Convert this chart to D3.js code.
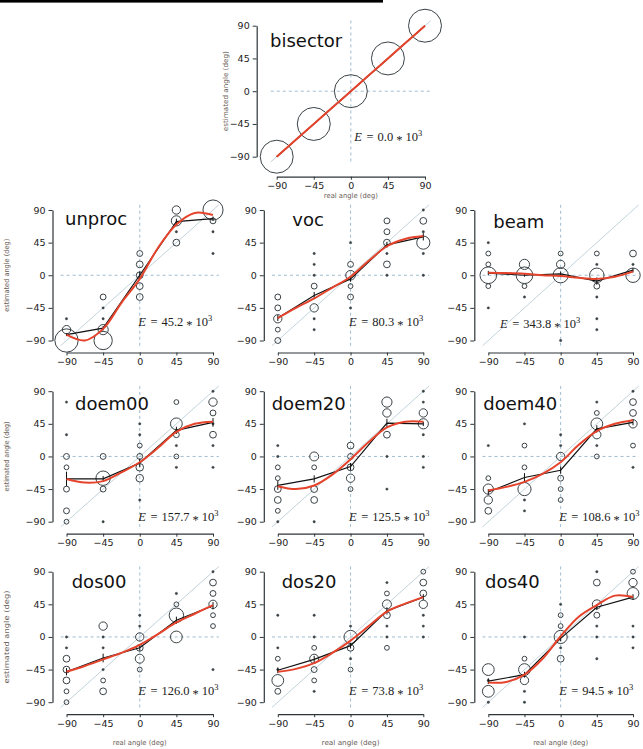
<!DOCTYPE html>
<html><head><meta charset="utf-8">
<script src="https://cdn.jsdelivr.net/npm/d3@7"></script>
<style>body{margin:0;background:#fff}svg{display:block}</style>
</head><body>
<svg id="c" width="643" height="749"></svg>
<script>
// ---------- DATA ----------
const angles = [-90, -45, 0, 45, 90];
const tickLabels = ["\u221290", "\u221245", "0", "45", "90"];
const smoothX = [-90, -67.5, -45, -22.5, 0, 22.5, 45, 67.5, 90];
const panelNames = ["bisector","unproc","voc","beam","doem00","doem20","doem40","dos00","dos20","dos40"];
const errorValues = ["0.0","45.2","80.3","343.8","157.7","125.5","108.6","126.0","73.8","94.5"];
const xLabel = "real angle (deg)";
const yLabel = "estimated angle (deg)";

// points: [real angle, estimated angle, count]
const bisectorPts = [[-90,-90,94],[-45,-45,94],[0,0,94],[45,45,94],[90,90,94]];
const bisectorMean = [-90,-45,0,45,90];
const bisectorErr = [0,0,0,0,0];
const bisectorSmooth = [-90,-67.5,-45,-22.5,0,22.5,45,67.5,90];

const unprocPts = [
 [-90,-60,1],[-90,-75,6],[-90,-90,47],
 [-45,-30,3],[-45,-45,1],[-45,-60,1],[-45,-75,9],[-45,-90,29],
 [0,30,3],[0,15,4],[0,0,4],[0,-15,4],[0,-30,4],
 [45,90,6],[45,75,9],[45,60,1],[45,45,4],
 [90,90,35],[90,75,3],[90,60,1],[90,30,1]];
const unprocMean = [-82,-73,0,74,78];
const unprocErr = [2,3,5,4,3];
const unprocSmooth = [-82,-90,-74,-38,-5,38,70,86,83];

const vocPts = [
 [-90,-30,3],[-90,-45,3],[-90,-60,6],[-90,-75,2],[-90,-90,3],
 [-45,30,1],[-45,15,1],[-45,0,1],[-45,-15,3],[-45,-45,6],[-45,-60,1],[-45,-75,1],
 [0,45,1],[0,15,3],[0,0,8],[0,-15,2],[0,-30,3],[0,-45,1],
 [45,75,3],[45,60,3],[45,45,4],[45,30,1],[45,15,4],[45,0,1],
 [90,90,1],[90,75,4],[90,60,1],[90,45,15],[90,30,1],[90,0,1]];
const vocMean = [-59,-28,-5,42,53];
const vocErr = [4,5,4,4,5];
const vocSmooth = [-59,-45,-32,-17,-2,20,40,50,54];

const beamPts = [
 [-90,45,1],[-90,30,2],[-90,15,2],[-90,0,24],[-90,-15,2],[-90,-45,1],
 [-45,15,9],[-45,0,24],[-45,-15,2],[-45,-30,1],
 [0,30,2],[0,15,6],[0,0,20],[0,-90,1],
 [45,30,2],[45,15,1],[45,0,18],[45,-15,3],[45,-30,1],[45,-60,1],[45,-75,1],
 [90,30,4],[90,15,1],[90,0,18]];
const beamMean = [3,0,2,-8,7];
const beamErr = [3,2,3,5,3];
const beamSmooth = [3.5,3,2,0,-1,-3.5,-5,-2,5];

const doem00Pts = [
 [-90,75,1],[-90,30,1],[-90,0,3],[-90,-15,2],[-90,-45,3],[-90,-75,3],[-90,-90,2],
 [-45,0,3],[-45,-30,18],[-45,-45,3],[-45,-90,1],
 [0,45,1],[0,30,1],[0,15,2],[0,0,3],[0,-15,5],[0,-30,5],[0,-60,1],
 [45,75,2],[45,45,12],[45,30,3],[45,15,1],[45,0,2],[45,-15,1],
 [90,90,1],[90,75,6],[90,60,3],[90,45,1],[90,30,4],[90,15,1],[90,-15,1]];
const doem00Mean = [-31,-31,-9,36,47];
const doem00Err = [10,4,6,5,6];
const doem00Smooth = [-31,-36,-34,-22,-8,12,34,45,48];

const doem20Pts = [
 [-90,15,1],[-90,0,1],[-90,-15,2],[-90,-30,2],[-90,-45,4],[-90,-60,4],[-90,-75,2],[-90,-90,1],
 [-45,0,7],[-45,-15,2],[-45,-45,4],[-45,-60,4],[-45,-90,1],
 [0,15,4],[0,0,3],[0,-15,4],[0,-30,6],[0,-45,2],
 [45,75,9],[45,60,6],[45,30,4],[45,0,1],[45,-45,1],
 [90,90,1],[90,75,1],[90,60,6],[90,45,9],[90,30,1],[90,0,1],[90,-15,1]];
const doem20Mean = [-40,-31,-14,46,45];
const doem20Err = [6,5,5,6,3];
const doem20Smooth = [-41,-45,-40,-25,-4,20,40,48,48];

const doem40Pts = [
 [-90,15,1],[-90,-30,2],[-90,-45,9],[-90,-60,6],[-90,-75,4],
 [-45,45,1],[-45,15,2],[-45,-15,2],[-45,-45,15],[-45,-60,1],[-45,-75,1],
 [0,30,1],[0,15,1],[0,0,6],[0,-30,3],[0,-45,2],[0,-60,2],
 [45,75,1],[45,60,2],[45,45,12],[45,30,6],[45,15,1],[45,0,2],
 [90,90,1],[90,75,4],[90,60,4],[90,45,6],[90,15,2],[90,-15,1]];
const doem40Mean = [-49,-29,-19,38,47];
const doem40Err = [4,6,5,5,4];
const doem40Smooth = [-47,-42,-35,-24,-8,16,35,45,50];

const dos00Pts = [
 [-90,0,1],[-90,-15,1],[-90,-30,4],[-90,-45,4],[-90,-60,4],[-90,-75,2],[-90,-90,2],
 [-45,15,6],[-45,0,1],[-45,-15,1],[-45,-45,1],[-45,-60,2],[-45,-75,4],
 [0,30,1],[0,15,1],[0,0,6],[0,-15,4],[0,-30,7],[0,-45,2],
 [45,60,1],[45,45,2],[45,30,18],[45,0,12],
 [90,90,1],[90,75,4],[90,60,3],[90,45,6],[90,30,2],[90,15,2],[90,-45,1]];
const dos00Mean = [-48,-29,-15,23,43];
const dos00Err = [5,6,4,5,5];
const dos00Smooth = [-48,-40,-31,-22,-11,4,20,32,44];

const dos20Pts = [
 [-90,30,1],[-90,-15,1],[-90,-30,2],[-90,-45,1],[-90,-60,12],[-90,-75,3],
 [-45,30,1],[-45,0,1],[-45,-15,2],[-45,-30,7],[-45,-45,3],[-45,-60,2],[-45,-75,1],
 [0,15,1],[0,0,15],[0,-15,4],[0,-30,1],[0,-45,2],
 [45,75,1],[45,60,2],[45,45,7],[45,30,4],[45,15,1],[45,0,1],[45,-15,2],
 [90,90,2],[90,75,4],[90,60,4],[90,45,6],[90,30,1],[90,15,1],[90,0,1]];
const dos20Mean = [-46,-31,-12,36,55];
const dos20Err = [4,5,4,5,4];
const dos20Smooth = [-48,-44,-36,-22,-5,15,35,46,55];

const dos40Pts = [
 [-90,-45,12],[-90,-60,1],[-90,-75,12],[-90,-90,1],
 [-45,0,1],[-45,-30,2],[-45,-45,12],[-45,-60,6],[-45,-75,1],[-45,-90,1],
 [0,45,1],[0,30,2],[0,15,2],[0,0,15],[0,-15,1],[0,-30,4],
 [45,90,1],[45,75,4],[45,45,7],[45,30,3],[45,15,1],[45,0,1],[45,-30,1],
 [90,90,2],[90,75,6],[90,60,12],[90,15,1],[90,0,1],[90,-15,1]];
const dos40Mean = [-61,-52,-2,41,55];
const dos40Err = [4,4,4,4,4];
const dos40Smooth = [-63,-62,-52,-30,1,28,44,57,55];

const panelData = {
 bisector:{pts:bisectorPts, mean:bisectorMean, err:bisectorErr, smooth:bisectorSmooth},
 unproc:{pts:unprocPts, mean:unprocMean, err:unprocErr, smooth:unprocSmooth},
 voc:{pts:vocPts, mean:vocMean, err:vocErr, smooth:vocSmooth},
 beam:{pts:beamPts, mean:beamMean, err:beamErr, smooth:beamSmooth},
 doem00:{pts:doem00Pts, mean:doem00Mean, err:doem00Err, smooth:doem00Smooth},
 doem20:{pts:doem20Pts, mean:doem20Mean, err:doem20Err, smooth:doem20Smooth},
 doem40:{pts:doem40Pts, mean:doem40Mean, err:doem40Err, smooth:doem40Smooth},
 dos00:{pts:dos00Pts, mean:dos00Mean, err:dos00Err, smooth:dos00Smooth},
 dos20:{pts:dos20Pts, mean:dos20Mean, err:dos20Err, smooth:dos20Smooth},
 dos40:{pts:dos40Pts, mean:dos40Mean, err:dos40Err, smooth:dos40Smooth}
};

// ---------- LAYOUT ----------
const colX = [66.5, 277.8, 488.3];
const colW = [146.5, 145.5, 144.7];
const rowY = [210, 391.2, 571.7];
const rowEy = [326, 520.7, 694.5];
const titlePos = {
 bisector:[270,46.7], unproc:[65,225], voc:[292.3,226], beam:[493.3,227.7],
 doem00:[75,410], doem20:[271.7,410], doem40:[483.3,410],
 dos00:[71.7,588.3], dos20:[281.7,588.3], dos40:[485,588.3]
};
function layoutFor(i){
  if(i===0) return {x0:276.7,y0:25.7,w:148.3,h:131,yGap:20,xGap:20,ex:354.3,ey:140.7,
    yLab:{x:225.5,len:80},xLab:{y:198,len:54}};
  const r=Math.floor((i-1)/3), c=(i-1)%3;
  const L={x0:colX[c],y0:rowY[r],w:colW[c],h:130.5,yGap:14,xGap:12,
    ex:colX[c]+colW[c]/2-1.5, ey:rowEy[r]};
  if(i===3){L.ex=500;L.ey=327.7;}
  if(c===0) L.yLab={x:6.5,len:[73,70,93][r]};
  if(r===2) L.xLab={y:745,len:[54,58,55][c]};
  return L;
}

const svg = d3.select("#c");
svg.append("rect").attr("x",0).attr("y",0).attr("width",383).attr("height",2.6).attr("fill","#000");

const rScale = d3.scaleSqrt().domain([0,100]).range([0,17]);
const AX = "#2e3538";

panelNames.forEach((name,i)=>{
  const L = layoutFor(i), d = panelData[name];
  const g = svg.append("g");
  const x = d3.scaleLinear().domain([-90,90]).range([L.x0, L.x0+L.w]);
  const y = d3.scaleLinear().domain([-90,90]).range([L.y0+L.h, L.y0]);
  const lo=-97.2, hi=97.2;
  g.append("line").attr("x1",x(lo)).attr("y1",y(lo)).attr("x2",x(hi)).attr("y2",y(hi))
    .attr("stroke","#c3d3dc").attr("stroke-width",1);
  g.append("line").attr("x1",x(0)).attr("x2",x(0)).attr("y1",y(hi)).attr("y2",y(lo))
    .attr("stroke","#9fbdd0").attr("stroke-width",1).attr("stroke-dasharray","3,3");
  g.append("line").attr("x1",x(lo)).attr("x2",x(hi)).attr("y1",y(0)).attr("y2",y(0))
    .attr("stroke","#9fbdd0").attr("stroke-width",1).attr("stroke-dasharray","3,3");
  g.selectAll("circle.pt").data(d.pts).join("circle")
    .attr("cx",p=>x(p[0])).attr("cy",p=>y(p[1]))
    .attr("r",p=>p[2]===1?1.2:rScale(p[2]))
    .attr("fill",p=>p[2]===1?"#3a4246":"none")
    .attr("stroke","#3a4246").attr("stroke-width",p=>p[2]===1?0.4:1);
  const line = d3.line().x(p=>x(p[0])).y(p=>y(p[1]));
  g.append("path").datum(angles.map((a,k)=>[a,d.mean[k]])).attr("d",line)
    .attr("fill","none").attr("stroke","#111").attr("stroke-width",1.2);
  angles.forEach((a,k)=>{
    if(d.err[k]>0) g.append("line").attr("x1",x(a)).attr("x2",x(a))
      .attr("y1",y(d.mean[k]-d.err[k])).attr("y2",y(d.mean[k]+d.err[k]))
      .attr("stroke","#111").attr("stroke-width",1);
  });
  const sl = d3.line().x(p=>x(p[0])).y(p=>y(p[1])).curve(d3.curveCatmullRom.alpha(0.5));
  g.append("path").datum(smoothX.map((a,k)=>[a,d.smooth[k]])).attr("d",sl)
    .attr("fill","none").attr("stroke","#e5432b").attr("stroke-width",2);
  const ya = g.append("g").attr("transform",`translate(${L.x0-L.yGap},0)`)
    .call(d3.axisLeft(y).tickValues(angles).tickSize(4).tickSizeOuter(0).tickPadding(3)
      .tickFormat((v,k)=>tickLabels[k]));
  const xa = g.append("g").attr("transform",`translate(0,${L.y0+L.h+L.xGap})`)
    .call(d3.axisBottom(x).tickValues(angles).tickSize(3).tickSizeOuter(0).tickPadding(3)
      .tickFormat((v,k)=>tickLabels[k]));
  [ya,xa].forEach(a=>{
    a.select(".domain").attr("stroke",AX).attr("stroke-width",1.2);
    a.selectAll(".tick line").attr("stroke",AX);
    a.selectAll("text").attr("font-family","'DejaVu Sans',sans-serif").attr("font-size",9.5).attr("fill","#222");
  });
  g.append("text").attr("x",titlePos[name][0]).attr("y",titlePos[name][1])
    .attr("font-family","'DejaVu Sans',sans-serif").attr("font-size",18).attr("fill","#111").text(name);
  const t = g.append("text").attr("x",L.ex).attr("y",L.ey)
    .attr("font-family","'Liberation Serif','Times New Roman',serif").attr("font-size",12.5).attr("fill","#222");
  t.append("tspan").attr("font-style","italic").text("E");
  t.append("tspan").attr("dx",4.5).text("=");
  t.append("tspan").attr("dx",4).text(errorValues[i]);
  t.append("tspan").attr("dx",3).attr("dy",3).text("*");
  t.append("tspan").attr("dx",3).attr("dy",-3).text("10");
  t.append("tspan").attr("dy",-5).attr("font-size",8.5).attr("fill","#222").text("3");
  if(L.yLab){
    const cy=(L.y0+L.y0+L.h)/2;
    g.append("text").attr("transform",`translate(${L.yLab.x},${cy}) rotate(-90)`)
      .attr("text-anchor","middle").attr("dy","0.35em")
      .attr("font-family","'DejaVu Sans',sans-serif").attr("font-size",7).attr("fill","#6a6058")
      .attr("textLength",L.yLab.len).attr("lengthAdjust","spacingAndGlyphs").text(yLabel);
  }
  if(L.xLab){
    g.append("text").attr("x",x(0)).attr("y",L.xLab.y).attr("text-anchor","middle")
      .attr("font-family","'DejaVu Sans',sans-serif").attr("font-size",7).attr("fill","#6a6058")
      .attr("textLength",L.xLab.len).attr("lengthAdjust","spacingAndGlyphs").text(xLabel);
  }
});
</script>
</body></html>
